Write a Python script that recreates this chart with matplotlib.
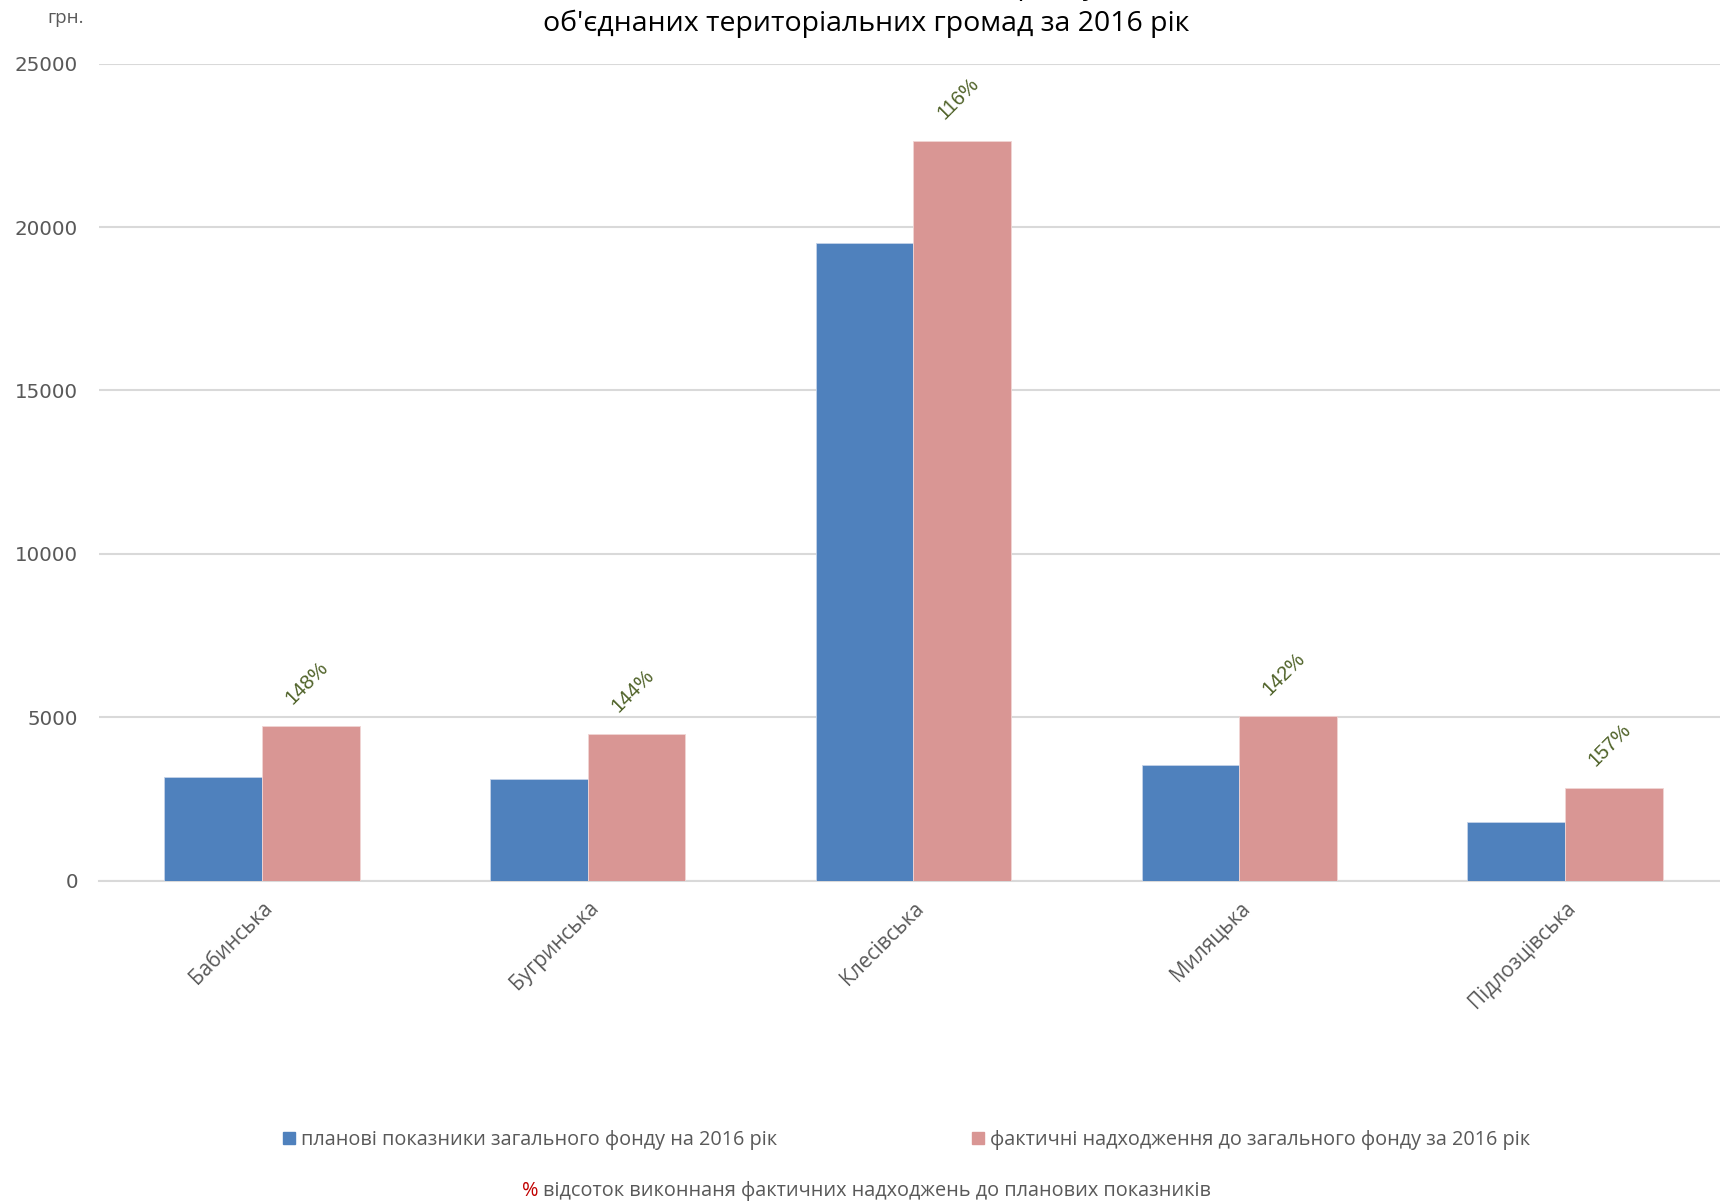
import numpy as np
import matplotlib.pyplot as plt
from matplotlib.patches import Patch

plt.rcParams['font.family'] = ['Open Sans', 'DejaVu Sans']

categories = ['Бабинська', 'Бугринська', 'Клесівська', 'Миляцька', 'Підлозцівська']
plan = [3190, 3120, 19500, 3560, 1810]
fact = [4730, 4500, 22620, 5030, 2850]
percents = ['148%', '144%', '116%', '142%', '157%']

blue = '#4F81BD'
pink = '#D99694'
green = '#4F6228'
grey = '#595959'

fig = plt.figure(figsize=(17.2, 12.03), dpi=100)
ax = fig.add_axes([0.0576, 0.2677, 0.947, 0.6795])

x = np.arange(len(categories))
w = 0.3
ax.bar(x - w / 2, plan, w, color=blue, edgecolor='#c5d3e8', linewidth=0.6, zorder=3)
ax.bar(x + w / 2, fact, w, color=pink, edgecolor='#f0d5d4', linewidth=0.6, zorder=3)

# percent of plan, above the actual bars
for xi, v, p in zip(x, fact, percents):
    ax.annotate(p, (xi + w / 2, v), xytext=(-3, 31), textcoords='offset points',
                ha='center', va='center', rotation=45, color=green, fontsize=14.5,
                family=['Liberation Sans', 'DejaVu Sans'])

ax.set_xlim(-0.5, len(categories) - 0.5)
ax.set_ylim(0, 25000)
ax.set_yticks(np.arange(0, 25001, 5000))
ax.yaxis.grid(True, color='#D9D9D9', linewidth=1.5, zorder=0)
ax.tick_params(axis='y', length=0, pad=15, labelsize=14.3, labelcolor=grey)
for t in ax.get_yticklabels():
    t.set_family('DejaVu Sans')
ax.set_xticks(x)
ax.set_xticklabels(categories, rotation=45, ha='right', va='top',
                   rotation_mode='anchor', fontsize=15, color=grey)
ax.tick_params(axis='x', length=0, pad=12)
for s in ['top', 'right', 'left']:
    ax.spines[s].set_visible(False)
ax.spines['bottom'].set_color('#D9D9D9')
ax.spines['bottom'].set_linewidth(1.5)

# first title line is cut off at the top edge, as in the original
fig.text(0.5035, 1 + 13 / 1203, 'Надходження доходів до загального фонду бюджетів',
         ha='center', va='center', fontsize=20.5)
fig.text(0.5035, 1 - 24 / 1203, "об'єднаних територіальних громад за 2016 рік",
         ha='center', va='center', fontsize=20.5)
fig.text(0.038, 1 - 18 / 1203, 'грн.', ha='center', va='center', fontsize=13.5, color=grey)

handles = [Patch(color=blue), Patch(color=pink)]
labels = ['планові показники загального фонду на 2016 рік',
          'фактичні надходження до загального фонду за 2016 рік']
fig.legend(handles, labels, ncol=2, loc='center', bbox_to_anchor=(0.527, 1 - 1140 / 1203),
           frameon=False, fontsize=14.3, handlelength=0.6, handleheight=0.6,
           handletextpad=0.3, columnspacing=9.8, labelcolor=grey)

fig.text(0.3035, 1 - 1191 / 1203, '%', ha='left', va='center', fontsize=14.3, color='#C00000')
fig.text(0.3157, 1 - 1191 / 1203, 'відсоток виконнаня фактичних надходжень до планових показників',
         ha='left', va='center', fontsize=14.3, color=grey)

fig.savefig('out.png', dpi=100)
